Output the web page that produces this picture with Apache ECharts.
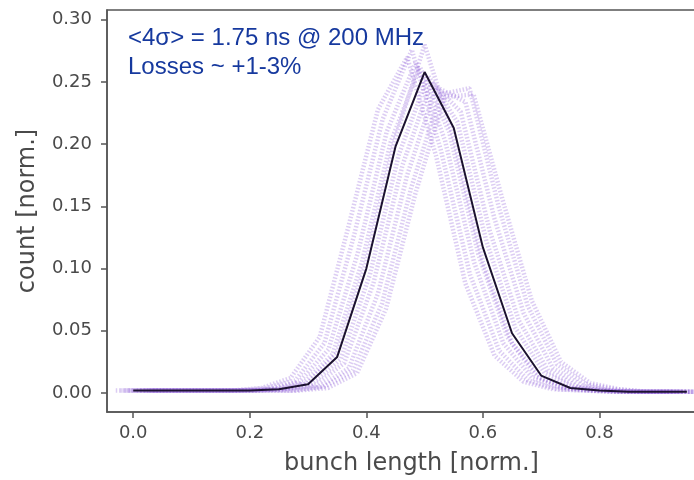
<!DOCTYPE html>
<html>
<head>
<meta charset="utf-8">
<script src="https://cdn.jsdelivr.net/npm/echarts@6/dist/echarts.min.js"></script>
<style>
  html, body { margin: 0; padding: 0; background: #fff; }
  #chart { width: 694px; height: 480px; }
</style>
</head>
<body>
<div id="chart"></div>
<script>
// ---- data ----
const bunchLength = [0.00,0.05,0.10,0.15,0.20,0.25,0.30,0.35,0.40,0.45,0.50,0.55,0.60,0.65,0.70,0.75,0.80,0.85,0.90,0.95];
const meanProfile = [0.002,0.002,0.002,0.002,0.002,0.003,0.007,0.029,0.100,0.198,0.258,0.213,0.117,0.048,0.014,0.004,0.002,0.001,0.001,0.001];

// individual turn profiles (purple dotted), each with a small bin offset
const purpleOffsets = [-0.03,-0.022,-0.015,-0.008,0.0,0.006,0.012,0.02,0.027,0.034];
const turnP1 = [0.002,0.002,0.002,0.002,0.002,0.004,0.012,0.045,0.135,0.228,0.270,0.190,0.088,0.030,0.009,0.003,0.002,0.001,0.001,0.001];
const turnP2 = [0.002,0.002,0.002,0.002,0.002,0.004,0.010,0.040,0.125,0.220,0.276,0.195,0.095,0.034,0.010,0.003,0.002,0.001,0.001,0.001];
const turnP3 = [0.002,0.002,0.002,0.002,0.002,0.003,0.009,0.035,0.112,0.210,0.266,0.203,0.105,0.040,0.012,0.004,0.002,0.001,0.001,0.001];
const turnP4 = [0.002,0.002,0.002,0.002,0.002,0.003,0.008,0.031,0.104,0.202,0.262,0.210,0.112,0.045,0.013,0.004,0.002,0.001,0.001,0.001];
const turnP5 = [0.002,0.002,0.002,0.002,0.002,0.003,0.008,0.032,0.105,0.205,0.280,0.205,0.105,0.040,0.012,0.004,0.002,0.001,0.001,0.001];
const turnP6 = [0.002,0.002,0.002,0.002,0.002,0.003,0.007,0.027,0.095,0.192,0.255,0.218,0.122,0.052,0.016,0.005,0.002,0.001,0.001,0.001];
const turnP7 = [0.002,0.002,0.002,0.002,0.002,0.003,0.006,0.024,0.088,0.183,0.250,0.226,0.130,0.058,0.018,0.005,0.002,0.001,0.001,0.001];
const turnP8 = [0.002,0.002,0.002,0.002,0.002,0.002,0.005,0.020,0.080,0.175,0.246,0.234,0.140,0.064,0.020,0.006,0.002,0.001,0.001,0.001];
const turnP9 = [0.002,0.002,0.002,0.002,0.002,0.002,0.005,0.018,0.072,0.165,0.240,0.245,0.150,0.070,0.023,0.007,0.003,0.001,0.001,0.001];
const turnP10 = [0.002,0.002,0.002,0.002,0.002,0.002,0.004,0.016,0.068,0.160,0.238,0.240,0.155,0.074,0.025,0.008,0.003,0.001,0.001,0.001];
const turnProfiles = [turnP1,turnP2,turnP3,turnP4,turnP5,turnP6,turnP7,turnP8,turnP9,turnP10];

const xTicks = [0.0,0.2,0.4,0.6,0.8];
const yTicks = [0.00,0.05,0.10,0.15,0.20,0.25,0.30];
const annotation1 = '<4σ> = 1.75 ns @ 200 MHz';
const annotation2 = 'Losses ~ +1-3%';

// ---- chart ----
const chart = echarts.init(document.getElementById('chart'), null, {renderer: 'canvas'});
const axisColor = '#555555';
const labelColor = '#4a4a4a';
const font = '"DejaVu Sans", sans-serif';

const series = turnProfiles.map((prof, k) => ({
  type: 'line',
  data: prof.map((v, i) => [bunchLength[i] + purpleOffsets[k], v]),
  symbol: 'none',
  silent: true,
  z: 2,
  lineStyle: {color: 'rgba(140, 90, 215, 0.30)', width: 4.5, type: [1.5, 1.8], cap: 'butt'}
}));
series.push({
  type: 'line',
  data: meanProfile.map((v, i) => [bunchLength[i], v]),
  symbol: 'none',
  z: 5,
  lineStyle: {color: '#1c1230', width: 2}
});

chart.setOption({
  animation: false,
  backgroundColor: '#ffffff',
  grid: {
    left: 107, top: 10, bottom: 68, right: -22,
    show: true, borderColor: axisColor, borderWidth: 1.5, backgroundColor: 'transparent',
    containLabel: false, outerBoundsMode: 'none'
  },
  xAxis: {
    type: 'value', min: -0.045, max: 1.0,
    name: 'bunch length [norm.]', nameLocation: 'middle', nameGap: 40,
    nameTextStyle: {fontFamily: font, fontSize: 24, color: labelColor},
    axisLine: {show: true, onZero: false, lineStyle: {color: axisColor, width: 1.5}},
    axisTick: {show: true, inside: false, length: 6, customValues: xTicks, lineStyle: {color: axisColor, width: 1.5}},
    axisLabel: {show: true, customValues: xTicks, margin: 12, fontFamily: font, fontSize: 18, color: labelColor,
      formatter: v => v.toFixed(1)},
    splitLine: {show: false}
  },
  yAxis: {
    type: 'value', min: -0.0153, max: 0.3079,
    name: 'count [norm.]', nameLocation: 'middle', nameGap: 67, nameRotate: 90,
    nameTextStyle: {fontFamily: font, fontSize: 24, color: labelColor},
    axisLine: {show: true, onZero: false, lineStyle: {color: axisColor, width: 1.5}},
    axisTick: {show: true, inside: false, length: 6, customValues: yTicks, lineStyle: {color: axisColor, width: 1.5}},
    axisLabel: {show: true, customValues: yTicks, margin: 15, fontFamily: font, fontSize: 18, color: labelColor,
      formatter: v => v.toFixed(2)},
    splitLine: {show: false}
  },
  graphic: [
    {type: 'text', left: 128, top: 26, z: 10,
      style: {text: annotation1, fontFamily: '"Liberation Sans", Arial, sans-serif', fontSize: 24, fill: '#16399e'}},
    {type: 'text', left: 128, top: 55, z: 10,
      style: {text: annotation2, fontFamily: '"Liberation Sans", Arial, sans-serif', fontSize: 24, fill: '#16399e'}}
  ],
  series: series
});
</script>
</body>
</html>
